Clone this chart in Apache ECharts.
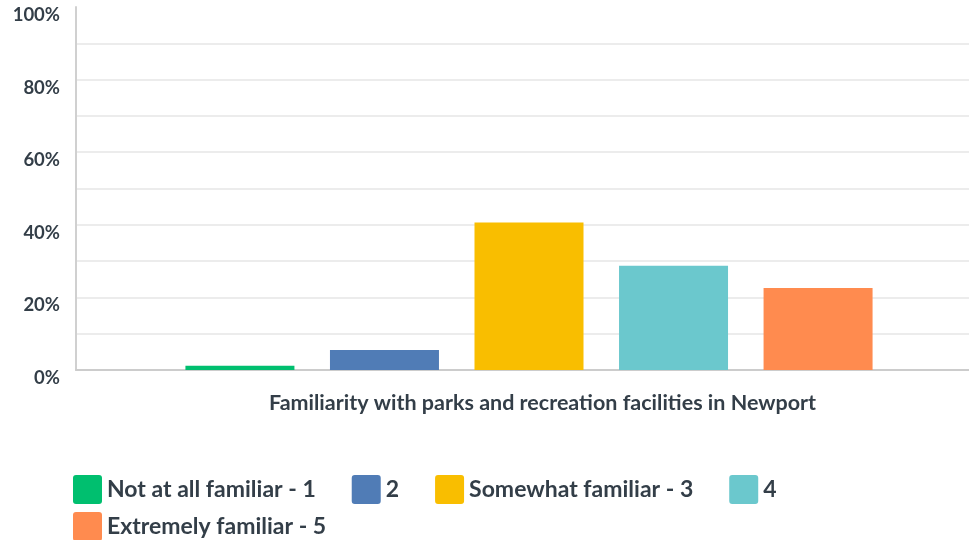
<!DOCTYPE html>
<html>
<head>
<meta charset="utf-8">
<script src="https://cdn.jsdelivr.net/npm/echarts@6/dist/echarts.min.js"></script>
<style>
  html, body { margin: 0; padding: 0; background: #fff; }
  #chart { width: 969px; height: 540px; }
</style>
</head>
<body>
<div id="chart"></div>
<script>
var categories = ["Familiarity with parks and recreation facilities in Newport"];
var seriesNames = ["Not at all familiar - 1", "2", "Somewhat familiar - 3", "4", "Extremely familiar - 5"];
var seriesValues = [1.2, 5.5, 40.6, 28.7, 22.6];
var seriesColors = ["#00bf6f", "#507cb6", "#f9be00", "#6bc8cd", "#ff8b4f"];

var textColor = "#333e48";
var fontFamily = "Lato, 'Open Sans', sans-serif";

var chart = echarts.init(document.getElementById("chart"));

var series = seriesNames.map(function (name, i) {
  return {
    name: name,
    type: "bar",
    barWidth: 109,
    barGap: "32.6%",
    itemStyle: { color: seriesColors[i] },
    data: [seriesValues[i]]
  };
});

// square with slightly rounded corners
var legendIcon = "path://M3,0H26Q29,0 29,3V26Q29,29 26,29H3Q0,29 0,26V3Q0,0 3,0Z";

var legendStyle = {
  orient: "horizontal",
  icon: legendIcon,
  padding: 0,
  itemWidth: 29,
  itemHeight: 29,
  itemGap: 36,
  textStyle: { color: textColor, fontSize: 23, fontWeight: "bold", fontFamily: fontFamily }
};

chart.setOption({
  animation: false,
  textStyle: { fontFamily: fontFamily },
  grid: { left: 76, right: -13, top: 7, bottom: 170, outerBoundsMode: "none" },
  legend: [
    Object.assign({ left: 73, top: 475, data: seriesNames.slice(0, 4) }, legendStyle),
    Object.assign({ left: 73, top: 512, data: seriesNames.slice(4) }, legendStyle)
  ],
  xAxis: {
    type: "category",
    data: categories,
    axisTick: { show: false },
    axisLine: { lineStyle: { color: "#cccccc", width: 2 } },
    axisLabel: {
      margin: 22,
      color: textColor,
      fontSize: 21.5,
      fontWeight: "bold",
      fontFamily: fontFamily,
      padding: [0, 0, 0, 27]
    }
  },
  yAxis: {
    type: "value",
    min: 0,
    max: 100,
    interval: 10,
    axisLine: { show: true, lineStyle: { color: "#d0d0d0", width: 2 } },
    axisTick: { show: false },
    splitLine: { show: true, showMaxLine: false, lineStyle: { color: "#ececec", width: 2 } },
    axisLabel: {
      margin: 16,
      color: textColor,
      fontSize: 18.5,
      fontWeight: "bold",
      fontFamily: fontFamily,
      verticalAlign: "top",
      lineHeight: 16,
      formatter: function (v) { return v % 20 === 0 ? v + "%" : ""; }
    }
  },
  series: series
});
</script>
</body>
</html>
